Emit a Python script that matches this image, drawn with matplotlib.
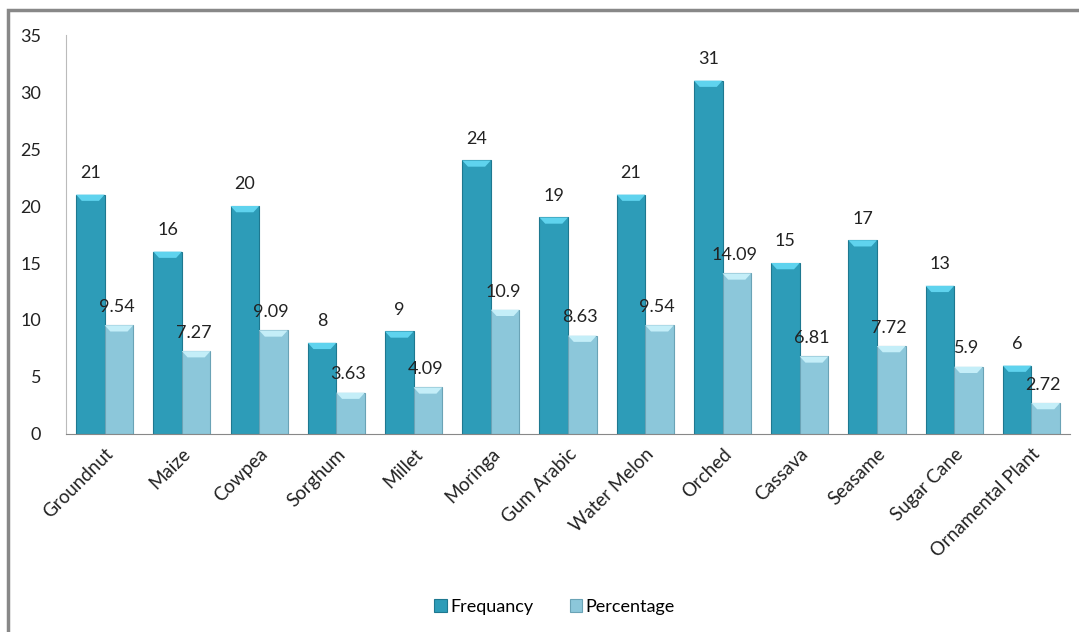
import matplotlib
matplotlib.use("Agg")
import matplotlib.pyplot as plt
import numpy as np
from matplotlib.patches import Rectangle, Polygon

categories = ["Groundnut", "Maize", "Cowpea", "Sorghum", "Millet", "Moringa",
              "Gum Arabic", "Water Melon", "Orched", "Cassava", "Seasame",
              "Sugar Cane", "Ornamental Plant"]
frequency = [21, 16, 20, 8, 9, 24, 19, 21, 31, 15, 17, 13, 6]
percentage = [9.54, 7.27, 9.09, 3.63, 4.09, 10.9, 8.63, 9.54, 14.09, 6.81, 7.72, 5.9, 2.72]
perc_labels = ["9.54", "7.27", "9.09", "3.63", "4.09", "10.9", "8.63", "9.54",
               "14.09", "6.81", "7.72", "5.9", "2.72"]
yticks = [0, 5, 10, 15, 20, 25, 30, 35]

plt.rcParams['font.family'] = ['Lato', 'DejaVu Sans']

fig = plt.figure(figsize=(10.79, 6.32), dpi=100)
ax = fig.add_axes([0.0612, 0.3133, 0.9305, 0.6313])

x = np.arange(len(categories))
w = 0.37
c_freq = "#2D9CB8"
c_perc = "#8CC7DA"
b1 = ax.bar(x - w / 2, frequency, w, color=c_freq, edgecolor="#1E7890", linewidth=0.8,
            label="Frequancy", zorder=2)
b2 = ax.bar(x + w / 2, percentage, w, color=c_perc, edgecolor="#6AA3B6", linewidth=0.8,
            label="Percentage", zorder=2)

# top bevel highlight (trapezoid cap)
for bars, hl in ((b1, "#5FD3EE"), (b2, "#C4EEF8")):
    for b in bars:
        h = b.get_height()
        x0 = b.get_x()
        bw = b.get_width()
        ax.add_patch(Polygon([(x0, h), (x0 + bw, h), (x0 + bw * 0.8, h - 0.55),
                              (x0 + bw * 0.2, h - 0.55)], closed=True,
                             facecolor=hl, lw=0, zorder=3))

for xi, v in zip(x, frequency):
    ax.text(xi - w / 2, v + 1.9, str(v), ha="center", va="center", fontsize=13, color="#222222")
for xi, v, s in zip(x, percentage, perc_labels):
    ax.text(xi + w / 2 - 0.03, v + 1.6, s, ha="center", va="center", fontsize=13, color="#222222")

ax.set_xlim(-0.5, len(categories) - 0.5)
ax.set_ylim(0, 35)
ax.set_yticks(yticks)
ax.set_yticklabels([str(t) for t in yticks], fontsize=13, color="#222222")
ax.set_xticks(x)
ax.set_xticklabels(categories, rotation=45, ha="right", rotation_mode="anchor",
                   fontsize=13.5, color="#222222")
ax.tick_params(axis="both", length=0, pad=8)
ax.tick_params(axis="y", pad=18)
for s in ("top", "right"):
    ax.spines[s].set_visible(False)
ax.spines["left"].set_color("#BBBBBB")
ax.spines["bottom"].set_color("#888888")

leg = fig.legend(handles=[b1, b2], labels=["Frequancy", "Percentage"], loc="center",
                 bbox_to_anchor=(0.514, 0.04), ncol=2, frameon=False, fontsize=13,
                 handlelength=0.7, handleheight=0.7, handletextpad=0.2, columnspacing=2.0)

# outer frame (top and left visible)
fig.add_artist(Rectangle((8 / 1079, -0.05), 1.1, 1 - 10 / 632 + 0.05,
                         transform=fig.transFigure, fill=False,
                         edgecolor="#888888", linewidth=2.5))

fig.savefig("out.png", dpi=100)
